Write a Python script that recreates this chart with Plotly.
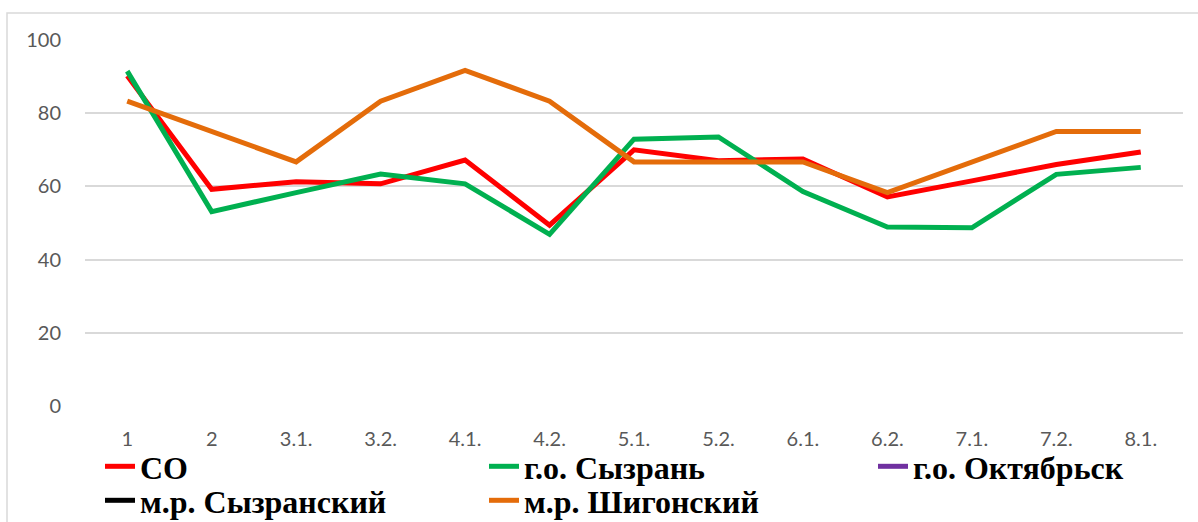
import plotly.graph_objects as go

categories = ["1", "2", "3.1.", "3.2.", "4.1.", "4.2.", "5.1.", "5.2.", "6.1.", "6.2.", "7.1.", "7.2.", "8.1."]
so = [90.2, 59.2, 61.3, 60.7, 67.2, 49.4, 70.0, 67.0, 67.5, 57.1, 61.5, 66.0, 69.4]
syzran = [91.5, 53.1, 58.3, 63.4, 60.7, 46.9, 72.9, 73.5, 58.6, 48.9, 48.7, 63.3, 65.2]
oktyabrsk = [None] * 13
syzransky = [None] * 13
shigonsky = [83.3, 75.0, 66.7, 83.3, 91.7, 83.3, 66.7, 66.7, 66.7, 58.3, 66.7, 75.0, 75.0]
y_ticks = [0, 20, 40, 60, 80, 100]

W, H = 1198, 522
L, R, T, B = 85, 15, 40, 116
pw, ph = W - L - R, H - T - B

def px(x):
    return (x - L) / pw

def py(y):
    return (H - B - y) / ph

# name, values, colour, legend id, legend left px, legend top px
series = [
    ("СО", so, "#FF0000", "legend", 100, 439),
    ("г.о. Сызрань", syzran, "#00B050", "legend2", 484, 439),
    ("г.о. Октябрьск", oktyabrsk, "#7030A0", "legend3", 873, 439),
    ("м.р. Сызранский", syzransky, "#000000", "legend4", 100, 473),
    ("м.р. Шигонский", shigonsky, "#E46C0A", "legend5", 484, 473),
]

fig = go.Figure()
for name, vals, color, lg, _, _ in series:
    fig.add_trace(go.Scatter(
        x=categories, y=vals, name=name, mode="lines",
        line=dict(color=color, width=5), legend=lg,
        connectgaps=False, showlegend=True,
    ))

legend_font = dict(family="Liberation Serif", size=32, color="#000000", weight="bold")
legends = {}
for name, vals, color, lg, lx, ly in series:
    legends[lg] = dict(
        x=px(lx), y=py(ly), orientation="v", yanchor="top", xanchor="left",
        font=legend_font, bgcolor="rgba(0,0,0,0)", borderwidth=0,
        itemclick=False, itemdoubleclick=False, visible=True,
    )

tick_font = dict(family="Lato", size=20, color="#595959")

fig.update_layout(
    width=W, height=H, showlegend=True,
    margin=dict(l=L, r=R, t=T, b=B, pad=0, autoexpand=False),
    paper_bgcolor="#FFFFFF", plot_bgcolor="#FFFFFF",
    font=dict(family="Lato", size=20, color="#595959"),
    **legends,
    xaxis=dict(
        type="category", categoryorder="array", categoryarray=categories,
        range=[-0.5, len(categories) - 0.5],
        showgrid=False, showline=False, zeroline=False, ticks="",
        tickfont=tick_font, ticklabelstandoff=19, automargin=False,
    ),
    yaxis=dict(
        range=[0, 100], tickvals=y_ticks,
        showgrid=True, gridcolor="#D9D9D9", gridwidth=1.5,
        zeroline=False, showline=False, ticks="",
        tickfont=tick_font, ticklabelstandoff=23, automargin=False,
    ),
    shapes=[dict(
        type="rect", xref="paper", yref="paper",
        x0=px(7), x1=px(1260), y0=py(600), y1=py(13),
        line=dict(color="#D9D9D9", width=1.5), fillcolor="rgba(0,0,0,0)", layer="below",
    )],
)

fig.write_html(
    "out.html",
    config={"displayModeBar": False},
    post_script="document.body.style.margin='0';document.body.style.overflow='hidden';",
)
